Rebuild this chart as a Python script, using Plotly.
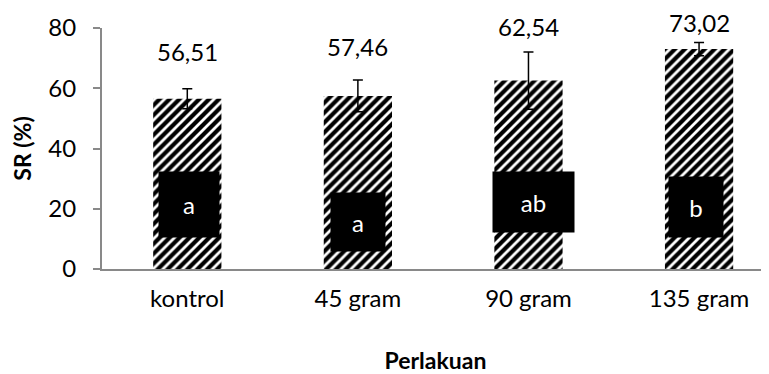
import plotly.graph_objects as go

categories = ["kontrol", "45 gram", "90 gram", "135 gram"]
sr_values = [56.51, 57.46, 62.54, 73.02]
sr_errors = [3.3, 5.3, 9.5, 2.2]
value_labels = ["56,51", "57,46", "62,54", "73,02"]
label_y = [72.1, 73.9, 80.4, 81.7]
letters = ["a", "a", "ab", "b"]
letter_y = [21.4, 15.6, 22.3, 20.6]
letter_box_w = [60, 54, 81, 54]
letter_box_h = [65, 58, 60, 60]
letter_xshift = [2, 0, 5, -3]

Y_MAX = 80
FONT = "Lato, Open Sans, sans-serif"
AXIS_COLOR = "#898989"

xpos = list(range(len(categories)))

fig = go.Figure()
fig.add_trace(go.Bar(
    x=xpos, y=sr_values,
    width=0.4,
    marker=dict(
        color="white",
        line=dict(width=0),
        pattern=dict(shape="/", fgcolor="black", bgcolor="white", size=7,
                     solidity=0.6, fgopacity=1),
    ),
    error_y=dict(type="data", array=sr_errors, visible=True, color="black",
                 thickness=1.5, width=5),
    showlegend=False,
))

for i, (lab, ly) in enumerate(zip(value_labels, label_y)):
    fig.add_annotation(x=xpos[i], xref="x", y=ly / Y_MAX, yref="paper",
                       yanchor="middle", xanchor="center",
                       text=lab, showarrow=False,
                       font=dict(family=FONT, size=24, color="black"))

for i, (lt, ly) in enumerate(zip(letters, letter_y)):
    fig.add_annotation(x=xpos[i], y=ly, text=lt, showarrow=False,
                       xshift=letter_xshift[i],
                       width=letter_box_w[i], height=letter_box_h[i],
                       bgcolor="black", borderpad=0,
                       font=dict(family=FONT, size=24, color="white"))

# page body has an 8px default margin, so the figure is 8px smaller
fig.update_layout(
    width=761, height=366,
    margin=dict(l=94, r=0, t=20, b=105),
    paper_bgcolor="white", plot_bgcolor="white",
    font=dict(family=FONT, size=24, color="black"),
    xaxis=dict(
        range=[-0.5, 3.41],
        tickmode="array", tickvals=xpos, ticktext=categories,
        showline=True, linecolor=AXIS_COLOR, linewidth=2,
        ticks="", showgrid=False, zeroline=False,
        ticklabelstandoff=7, automargin=False,
        title=dict(text="<b>Perlakuan</b>", standoff=51,
                   font=dict(family=FONT, size=23)),
    ),
    yaxis=dict(
        range=[0, Y_MAX], tickvals=[0, 20, 40, 60, 80],
        showline=True, linecolor=AXIS_COLOR, linewidth=2,
        ticks="outside", ticklen=7, tickcolor=AXIS_COLOR, tickwidth=2,
        showgrid=False, zeroline=False,
        ticklabelstandoff=12, automargin=False,
        title=dict(text="<b>SR (%)</b>", standoff=11,
                   font=dict(family=FONT, size=23)),
    ),
)

fig.write_html("out.html")
